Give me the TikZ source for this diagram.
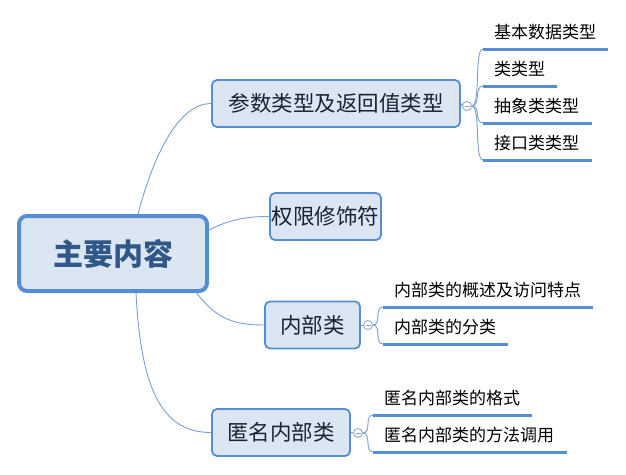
\documentclass[tikz,border=0pt]{standalone}
\usepackage{fontspec}
\setmainfont{Noto Sans CJK SC}
\usetikzlibrary{calc}
\pgfdeclarelayer{bg}
\pgfsetlayers{bg,main}
\definecolor{boxfill}{RGB}{220,230,242}
\definecolor{boxline}{RGB}{85,142,213}
\definecolor{linkc}{RGB}{120,160,215}
\definecolor{roottext}{RGB}{47,87,135}
\definecolor{branchtext}{RGB}{25,35,55}
\definecolor{togglec}{RGB}{140,160,195}
\begin{document}
\begin{tikzpicture}[x=1pt,y=-1pt,
  rootbox/.style={draw=boxline, line width=4pt, fill=boxfill, rounded corners=8pt,
    minimum width=188pt, minimum height=75pt, inner sep=0pt,
    font=\fontsize{30}{32}\selectfont\bfseries, text=roottext},
  branchbox/.style={draw=boxline, line width=1.8pt, fill=boxfill, rounded corners=5pt,
    minimum height=47pt, inner sep=0pt, font=\fontsize{21.5}{24}\selectfont, text=branchtext},
  leaf/.style={anchor=south west, inner xsep=11pt, inner ysep=10pt, text depth=0pt,
    text height=13pt, font=\fontsize{17}{18}\selectfont, text=black},
  uline/.style={draw=boxline, line width=3pt},
  link/.style={draw=linkc, line width=0.9pt},
  toggle/.style={circle, draw=togglec, fill=white, line width=0.8pt, minimum size=9pt, inner sep=0pt,
    path picture={\draw[togglec, line width=0.8pt] ($(path picture bounding box.center)+(-2.5,0)$) -- ++(5,0);}}
]
\useasboundingbox (0,0) rectangle (626,474);

% root and main topics
\node[rootbox] (root) at (113,253.5) {主要内容};
\node[branchbox, minimum width=248pt] (b1) at (336,103.5) {参数类型及返回值类型};
\node[branchbox, minimum width=111pt] (b2) at (325.5,216.5) {权限修饰符};
\node[branchbox, minimum width=95pt] (b3) at (312.5,325) {内部类};
\node[branchbox, minimum width=138pt] (b4) at (281,432.5) {匿名内部类};

% toggles
\node[toggle] (t1) at (467,106) {};
\node[toggle] (t3) at (368,325) {};
\node[toggle] (t4) at (358,433) {};

% leaves
\node[leaf] (l11) at (483,49) {基本数据类型};
\node[leaf] (l12) at (483,86) {类类型};
\node[leaf] (l13) at (483,123) {抽象类类型};
\node[leaf] (l14) at (483,160) {接口类类型};
\node[leaf] (l31) at (383,307) {内部类的概述及访问特点};
\node[leaf] (l32) at (383,344) {内部类的分类};
\node[leaf] (l41) at (373,415) {匿名内部类的格式};
\node[leaf] (l42) at (373,452) {匿名内部类的方法调用};

\draw[uline] (l11.south west) -- ++(125,0);
\draw[uline] (l12.south west) -- ++(74,0);
\draw[uline] (l13.south west) -- ++(109,0);
\draw[uline] (l14.south west) -- ++(109,0);
\draw[uline] (l31.south west) -- ++(210,0);
\draw[uline] (l32.south west) -- ++(125,0);
\draw[uline] (l41.south west) -- ++(159,0);
\draw[uline] (l42.south west) -- ++(194,0);

\begin{pgfonlayer}{bg}
  \coordinate (r1) at ($(root.north)+(25,0)$);
  \coordinate (r2) at ($(root.east)+(0,-23.5)$);
  \coordinate (r3) at ($(root.south east)+(-13,-1)$);
  \coordinate (r4) at ($(root.south)+(23,0)$);
  \draw[link] (r1) .. controls +(17,-64) and +(-31,0) .. (b1.west);
  \draw[link] (r2) .. controls +(20,-10) and +(-25,0) .. (b2.west);
  \draw[link] (r3) .. controls +(20,27) and +(-30,0) .. (b3.west);
  \draw[link] (r4) .. controls +(5,95) and +(-50,0) .. (b4.west);

  \draw[link] (b1.east) -- (t1.west);
  \draw[link] (b3.east) -- (t3.west);
  \draw[link] (b4.east) -- (t4.west);

  \foreach \l in {l11,l12,l13,l14}
    \draw[link] (t1.east) .. controls +(9,0) and +(-9,0) .. (\l.south west);
  \foreach \l in {l31,l32}
    \draw[link] (t3.east) .. controls +(9,0) and +(-9,0) .. (\l.south west);
  \foreach \l in {l41,l42}
    \draw[link] (t4.east) .. controls +(9,0) and +(-9,0) .. (\l.south west);
\end{pgfonlayer}
\end{tikzpicture}
\end{document}
